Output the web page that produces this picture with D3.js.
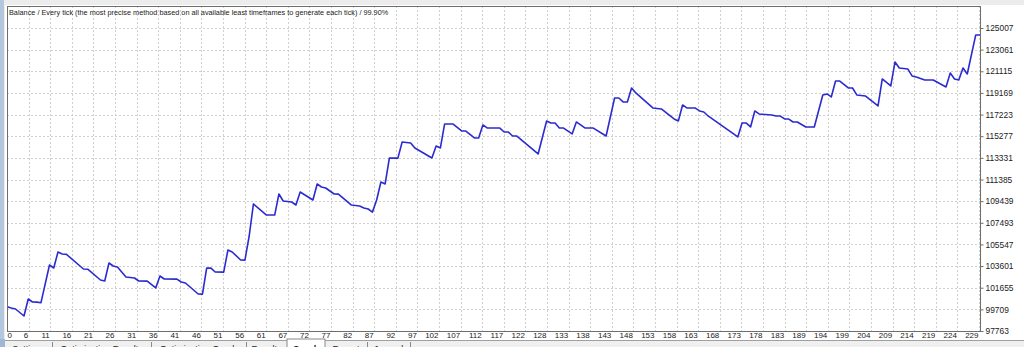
<!DOCTYPE html>
<html>
<head>
<meta charset="utf-8">
<script src="https://cdn.jsdelivr.net/npm/d3@7"></script>
<style>
  html, body { margin: 0; padding: 0; background: #f0f0f0; }
  svg { display: block; }
  text { font-family: "Liberation Sans", Arial, sans-serif; }
</style>
</head>
<body>
<svg id="chart" width="1024" height="347"></svg>
<script>
// ---- data ----
const titleText = "Balance / Every tick (the most precise method based on all available least timeframes to generate each tick) / 99.90%";

const tradeIdx = [0,1,2,4,5,6,7,8,10,11,12,13,14,18,19,22,23,24,25,26,28,30,31,33,35,36,37,40,41,42,45,46,47,48,49,51,52,53,55,56,57,58,61,63,64,65,67,68,69,72,73,74,75,77,78,81,83,84,85,86,87,88,89,90,92,93,95,96,98,100,101,102,103,105,107,108,110,111,112,113,116,117,118,119,120,125,127,128,129,130,131,133,134,136,138,141,143,144,145,146,147,148,152,154,157,158,159,160,162,163,164,165,172,173,174,175,176,177,180,181,182,183,184,185,186,188,190,192,193,194,195,196,198,199,200,202,205,206,208,209,210,212,213,214,216,218,221,222,223,224,225,226,228,229];

const balance = [99950,99830,99741,99112,100641,100371,100360,100308,103698,103429,104867,104688,104650,103339,103320,102349,102260,103878,103608,103518,102619,102530,102260,102250,101630,102709,102440,102430,102170,102080,101090,101080,103429,103420,103069,103060,105047,104867,104148,104140,106306,109184,108195,108190,110083,109454,109364,109094,110263,109544,110983,110713,110623,110083,110070,109094,109004,108824,108734,108452,109544,111162,110983,113321,113310,114760,114670,114220,113771,113321,114400,114220,116378,116370,115749,115740,115118,115110,116289,116019,116010,115659,115650,115299,115290,113680,116648,116468,116460,116019,116010,115479,116558,116019,116010,115299,118717,118710,118357,118350,119615,119166,117817,117727,116828,116648,118087,117817,117810,117548,117458,117098,115209,116469,116460,116109,117548,117278,117188,117098,117090,116828,116820,116558,116550,116109,116100,118987,119077,118807,120246,120240,119615,119610,118987,118897,117997,120425,119796,121954,121415,121325,120695,120605,120335,120330,119706,120965,120425,120335,121415,120875,124382,124380];

const yTicks = [125007,123061,121115,119169,117223,115277,113331,111385,109439,107493,105547,103601,101655,99709,97763];

const xLabels = [0,6,11,16,21,26,31,36,41,46,51,56,61,67,72,77,82,87,92,97,102,107,112,117,122,128,133,138,143,148,153,158,163,168,173,178,183,189,194,199,204,209,214,219,224,229];

const tabNames = ["Settings","Optimization Results","Optimization Graph","Results","Graph","Report","Journal"];
const activeTab = "Graph";

// ---- layout ----
const W = 1024, H = 347;
const plot = { left: 7, right: 981, top: 6, bottom: 331 };

const svg = d3.select("#chart");

// window background pieces
svg.append("rect").attr("x",0).attr("y",0).attr("width",W).attr("height",H).attr("fill","#ececec");
svg.append("rect").attr("x",0).attr("y",0).attr("width",4).attr("height",H).attr("fill","#b3c7de");
svg.append("rect").attr("x",5).attr("y",5).attr("width",W-5).attr("height",335).attr("fill","#ffffff");

// scales
const x = d3.scaleLinear().domain([0, 229]).range([plot.left, 980]);
const y = d3.scaleLinear().domain([97763, 125007]).range([plot.bottom, 28]);
const gx = d3.scaleLinear().domain([0, xLabels.length - 1]).range([plot.left, 979]);

// gridlines
const grid = svg.append("g").attr("stroke","#cfcfcf").attr("stroke-dasharray","2,2").attr("stroke-width",1);
grid.selectAll("line.v").data(d3.range(1, xLabels.length)).join("line")
  .attr("x1", i => Math.round(gx(i)) + 0.5).attr("x2", i => Math.round(gx(i)) + 0.5)
  .attr("y1", plot.top).attr("y2", plot.bottom);
grid.selectAll("line.h").data(yTicks.slice(0, -1)).join("line")
  .attr("x1", plot.left).attr("x2", plot.right)
  .attr("y1", d => Math.round(y(d)) + 0.5).attr("y2", d => Math.round(y(d)) + 0.5);

// balance line
const line = d3.line().x((d, i) => x(tradeIdx[i])).y(d => y(d));
svg.append("path").datum(balance)
  .attr("fill","none").attr("stroke","#2b2bcf").attr("stroke-width",1.6)
  .attr("stroke-linejoin","round").attr("d", line);

// plot frame
svg.append("rect").attr("x", plot.left + 0.5).attr("y", plot.top + 0.5)
  .attr("width", plot.right - plot.left - 1).attr("height", plot.bottom - plot.top)
  .attr("fill","none").attr("stroke","#6e6e6e").attr("stroke-width",1);

// title
svg.append("text").attr("x", 9).attr("y", 14.5)
  .attr("font-size", 7.3).attr("fill","#222").text(titleText);

// right axis
const yAxis = d3.axisRight(y).tickValues(yTicks).tickSize(3).tickPadding(2).tickFormat(d3.format("d"));
const gy = svg.append("g").attr("transform", `translate(${plot.right - 0.5},0)`).call(yAxis);
gy.select(".domain").remove();
gy.selectAll("line").attr("stroke","#6e6e6e");
gy.selectAll("text").attr("font-size", 8.4).attr("fill","#222").attr("font-family","Liberation Sans, Arial, sans-serif");

// bottom axis (labels sit left of their grid line)
const xAxis = d3.axisBottom(gx).tickValues(d3.range(xLabels.length)).tickSize(0).tickPadding(0)
  .tickFormat(i => xLabels[i]);
const gxa = svg.append("g").attr("transform", `translate(0,${plot.bottom})`).call(xAxis);
gxa.select(".domain").remove();
gxa.selectAll("text")
  .attr("font-size", 8).attr("fill","#222").attr("font-family","Liberation Sans, Arial, sans-serif")
  .attr("dy", "0.75em").attr("y", 1)
  .attr("text-anchor", (d, i) => i === 0 ? "start" : "end")
  .attr("dx", (d, i) => i === 0 ? 0 : -1);

// bottom tab strip
svg.append("rect").attr("x",0).attr("y",340).attr("width",W).attr("height",7).attr("fill","#f0f0f0");
svg.append("line").attr("x1",0).attr("x2",W).attr("y1",340.5).attr("y2",340.5).attr("stroke","#a0a0a0");
svg.append("rect").attr("x",0).attr("y",339).attr("width",5).attr("height",8).attr("fill","#9fb7d4");
const tabEdges = [5, 52, 151, 246, 287, 325, 367, 410];
const tabs = svg.append("g");
tabNames.forEach((name, i) => {
  const x0 = tabEdges[i], x1 = tabEdges[i + 1];
  const active = name === activeTab;
  if (active) {
    tabs.append("rect").attr("x", x0).attr("y", 339).attr("width", x1 - x0).attr("height", 9)
      .attr("fill", "#ffffff").attr("stroke", "#8a8a8a");
  } else {
    tabs.append("line").attr("x1", x1 + 0.5).attr("x2", x1 + 0.5).attr("y1", 342).attr("y2", 347).attr("stroke", "#8a8a8a");
  }
  tabs.append("text").attr("x", (x0 + x1) / 2).attr("y", 352).attr("text-anchor", "middle")
    .attr("font-size", 9).attr("fill", "#222").attr("font-weight", active ? "bold" : "normal").text(name);
});
</script>
</body>
</html>
